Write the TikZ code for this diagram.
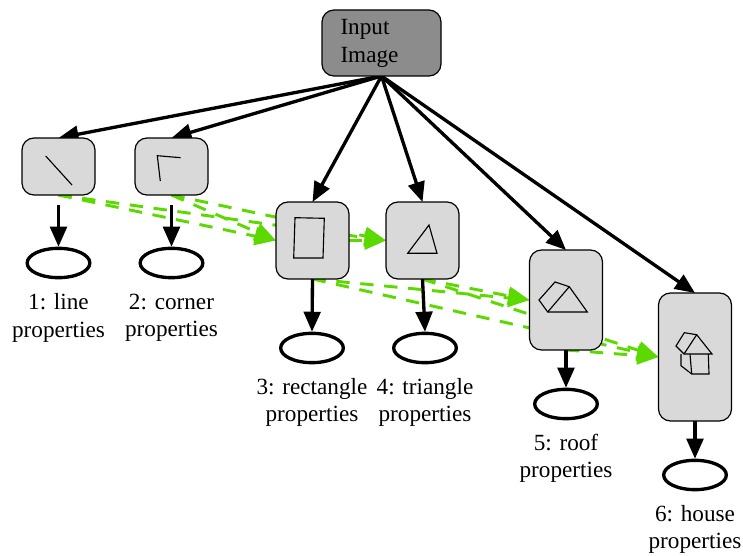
\documentclass[tikz,border=0pt]{standalone}
\usepackage{fontspec}
\setmainfont{Liberation Serif}
\usetikzlibrary{arrows.meta,shapes.geometric}
\pgfdeclarelayer{edges}
\pgfsetlayers{edges,main}
\definecolor{boxgray}{HTML}{D9D9D9}
\definecolor{inputgray}{HTML}{8C8C8C}
\definecolor{arrowgreen}{HTML}{5CD900}
\tikzset{
  x=0.75pt,y=-0.75pt,
  box/.style={draw=black,line width=0.9pt,fill=boxgray,rounded corners=9pt,inner sep=0pt,outer sep=0pt},
  inputbox/.style={box,fill=inputgray,minimum width=89.25pt,minimum height=49.5pt,text width=61.5pt,align=left,
    font=\fontsize{17.4pt}{21pt}\selectfont},
  oval/.style={draw=black,line width=2.5pt,ellipse,fill=white,minimum width=47pt,minimum height=22pt,inner sep=0pt,outer sep=1.2pt},
  caption/.style={align=center,inner sep=0pt,font=\fontsize{17.4pt}{20.6pt}\selectfont},
  feed/.style={draw=black,line width=2.5pt,-{Triangle[length=15pt,width=12.5pt]}},
  cue/.style={draw=arrowgreen,line width=2.2pt,dash pattern=on 10pt off 8pt,-{Triangle[length=16pt,width=13.5pt,fill=arrowgreen]}},
  sketch/.style={draw=black,line width=0.85pt,line join=miter},
}
\begin{document}
\begin{tikzpicture}
\useasboundingbox (0,0) rectangle (743,556);
\node[inputbox] (input) at (381.5,43) {Input\\Image};
\node[box,minimum width=54.75pt,minimum height=42.75pt] (b1) at (58.5,166.5) {};
\node[box,minimum width=54.75pt,minimum height=42.75pt] (b2) at (171.5,166.5) {};
\node[box,minimum width=54.75pt,minimum height=57.75pt] (b3) at (312.5,240.5) {};
\node[box,minimum width=54.75pt,minimum height=57.75pt] (b4) at (422.5,240.5) {};
\node[box,minimum width=54.75pt,minimum height=75pt] (b5) at (566,300) {};
\node[box,minimum width=54.75pt,minimum height=96pt] (b6) at (695,357) {};
\node[oval] (e1) at (58.5,263) {};
\node[oval] (e2) at (171.5,263) {};
\node[oval] (e3) at (312,348) {};
\node[oval] (e4) at (425,348) {};
\node[oval] (e5) at (566,404) {};
\node[oval] (e6) at (695,475) {};
\node[caption] (t1) at (58.5,318) {1: line\\properties};
\node[caption] (t2) at (171.5,318) {2: corner\\properties};
\node[caption] (t3) at (312,402.5) {3: rectangle\\properties};
\node[caption] (t4) at (425,402.5) {4: triangle\\properties};
\node[caption] (t5) at (566,458.5) {5: roof\\properties};
\node[caption] (t6) at (695,529.5) {6: house\\properties};
\begin{pgfonlayer}{edges}
\draw[cue] (b1.south) -- (b3.west);
\draw[cue] (b2.south) -- (b3.west);
\draw[cue] (b1.south) -- (b4.west);
\draw[cue] (b2.south) -- (b4.west);
\draw[cue] (b3.east) -- (b4.west);
\draw[cue] (b3.south) -- (b5.west);
\draw[cue] (b4.south) -- (b5.west);
\draw[cue] (b3.south) -- (b6.west);
\draw[cue] (b4.south) -- (b6.west);
\draw[cue] (b5.south) -- (b6.west);
\draw[feed] (input.south) -- (b1.north);
\draw[feed] (input.south) -- (b2.north);
\draw[feed] (input.south) -- (b3.north);
\draw[feed] (input.south) -- (b4.north);
\draw[feed] (input.south) -- (b5.north);
\draw[feed] (input.south) -- (b6.north);
\draw[feed,shorten <=7.5pt] (b1.south) -- (e1.north);
\draw[feed,shorten <=7.5pt] (b2.south) -- (e2.north);
\draw[feed] (b3.south) -- (e3.north);
\draw[feed] (b4.south) -- (e4.north);
\draw[feed] (b5.south) -- (e5.north);
\draw[feed] (b6.south) -- (e6.north);
\end{pgfonlayer}
% glyphs inside the boxes
\draw[sketch] (45.7,156) -- (72,185);
\draw[sketch] (180.7,157.7) -- (157.3,155.7) -- (160.3,181);
\draw[sketch] (295,217.7) -- (324.3,218.3) -- (323,258) -- (293.7,258) -- cycle;
\draw[sketch] (429,225) -- (437,253.3) -- (407.7,253.3) -- cycle;
\draw[sketch] (555,282) -- (569.3,286.7) -- (587.3,312) -- (547.7,312) -- (539,300) -- cycle;
\draw[sketch] (569.3,286.7) -- (547.7,312);
\draw[sketch] (684.3,332.7) -- (696.7,334.7) -- (712,354) -- (684,354) -- (676,346) -- cycle;
\draw[sketch] (696.7,334.7) -- (684,354);
\draw[sketch] (681,354) -- (681,365.7) -- (691.7,374) -- (709,374) -- (708.3,354);
\draw[sketch] (690,354) -- (691.7,374);
\end{tikzpicture}
\end{document}
